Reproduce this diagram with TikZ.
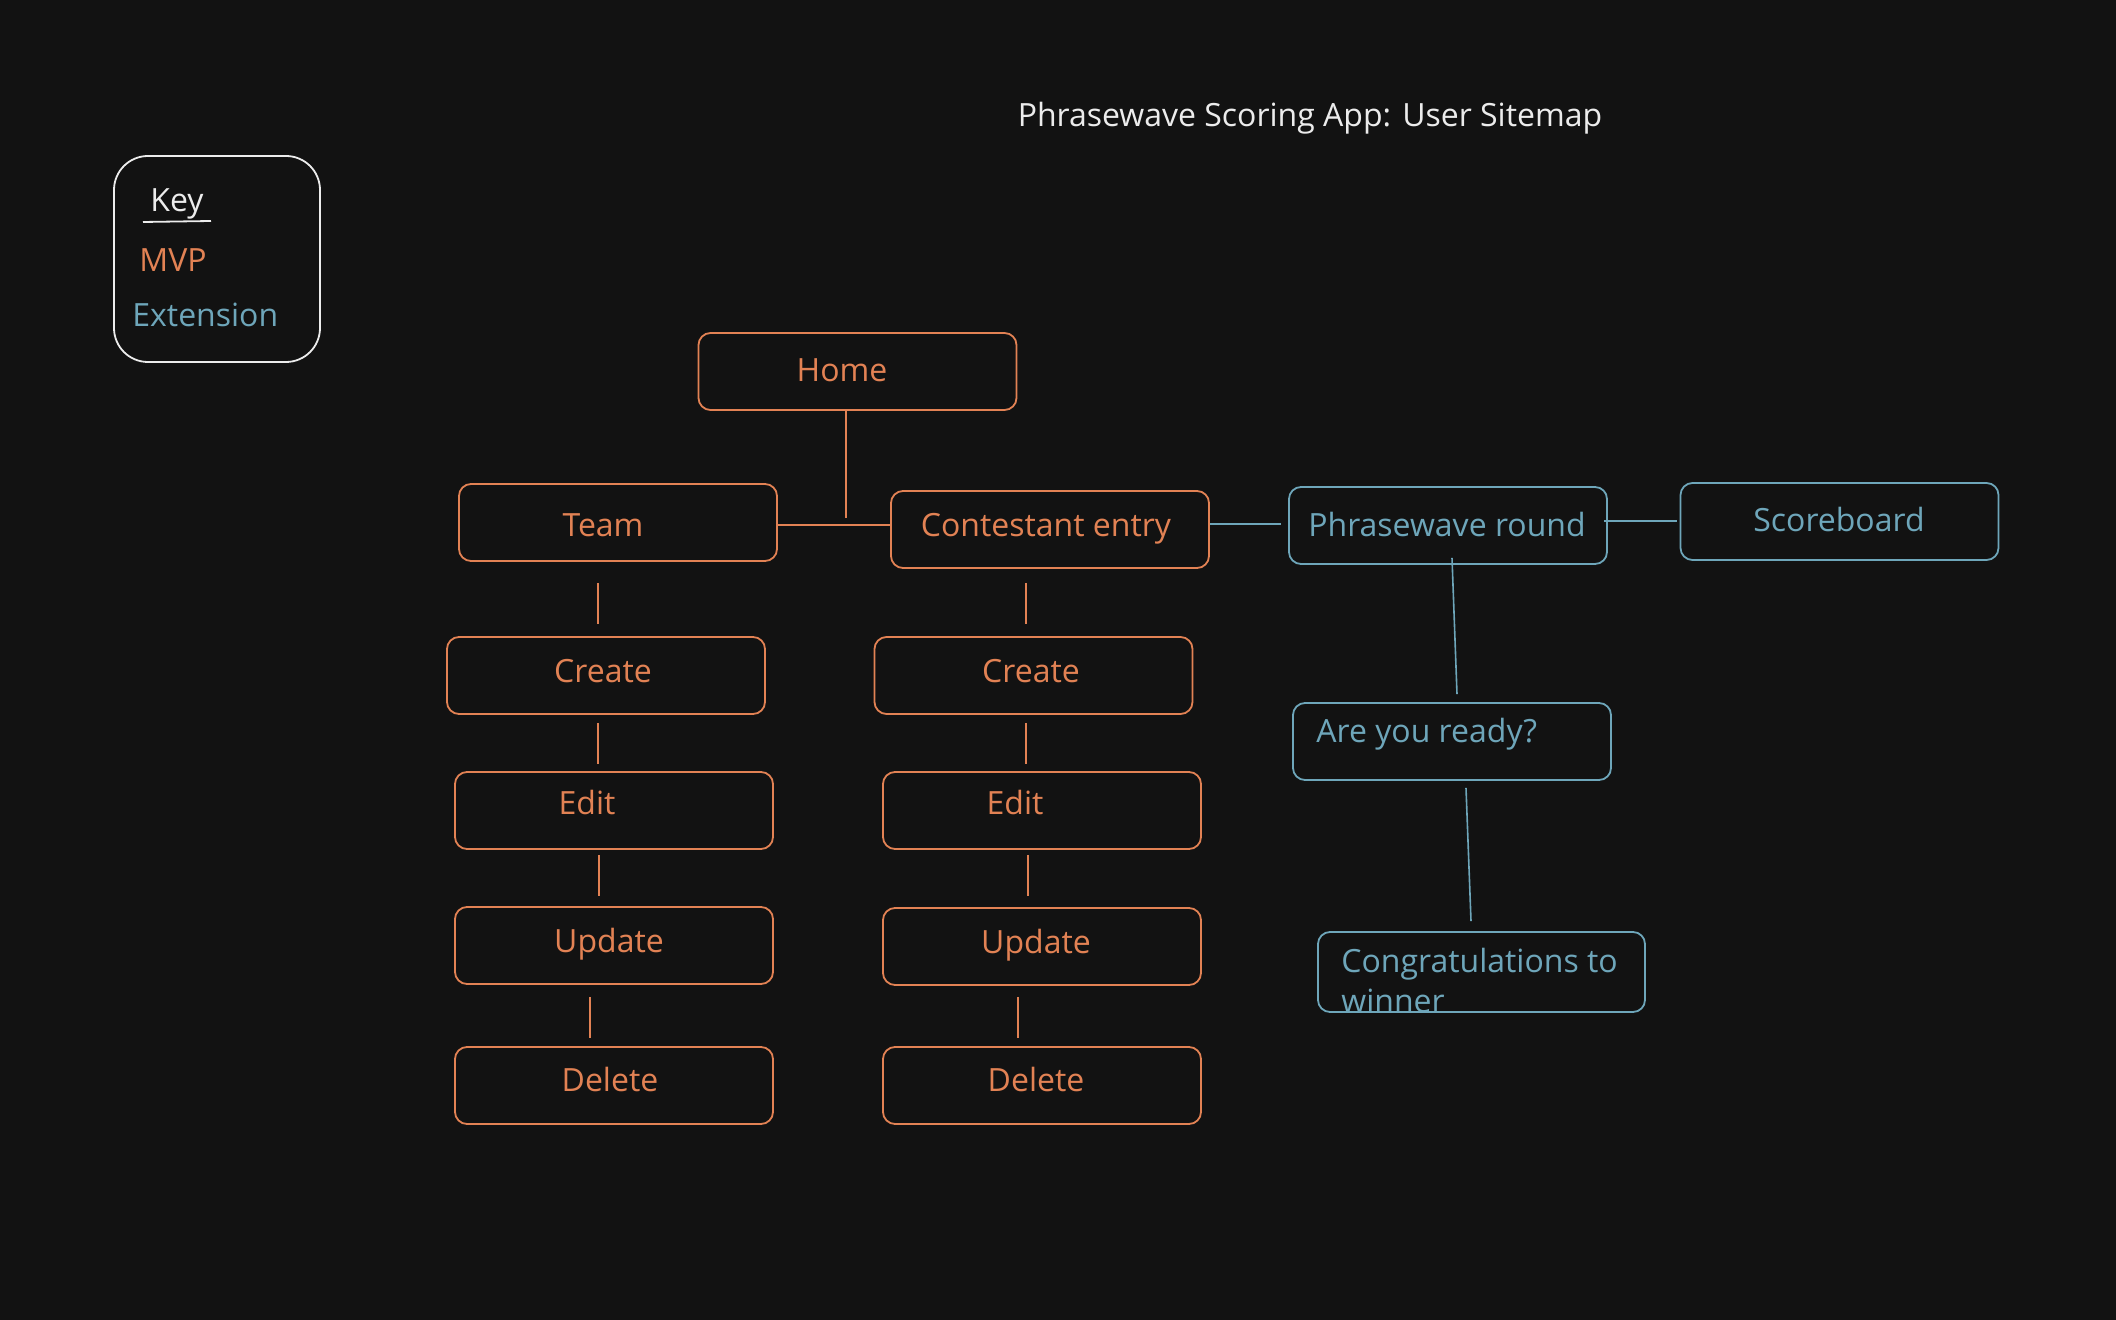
\documentclass[tikz,border=0pt]{standalone}
\usepackage{fontspec}
\setmainfont{Open Sans}
\definecolor{bg}{HTML}{121212}
\definecolor{org}{RGB}{226,130,84}
\definecolor{blu}{RGB}{110,166,186}
\definecolor{wht}{RGB}{236,236,236}
\tikzset{
  boxbase/.style={rectangle, rounded corners=6pt, minimum width=159pt, minimum height=38.5pt, inner sep=0pt, line width=0.9pt},
  obox/.style={boxbase, draw=org},
  bbox/.style={boxbase, draw=blu},
  txtbase/.style={anchor=mid, inner sep=0pt, yshift=-3pt},
  otxt/.style={txtbase, text=org, font=\fontsize{16}{19}\selectfont},
  btxt/.style={txtbase, text=blu, font=\fontsize{16}{19}\selectfont},
  keytxt/.style={txtbase, font=\fontsize{16}{19}\selectfont},
  oline/.style={draw=org, line width=0.8pt},
  bline/.style={draw=blu, line width=0.8pt},
}
\begin{document}
\begin{tikzpicture}[x=0.5pt,y=-0.5pt]
\fill[bg] (0,0) rectangle (2116,1320);
\useasboundingbox (0,0) rectangle (2116,1320);

% title
\node[keytxt, text=wht] (title) at (1310,115) {Phrasewave Scoring App: User Sitemap};

% key
\node[draw=wht, line width=0.9pt, rounded corners=17pt, minimum width=103pt, minimum height=103pt, inner sep=0pt] (key) at (217,259) {};
\node[keytxt, text=wht] (keyT) at (177,200) {Key};
\draw[wht, line width=0.9pt] (143,222) -- (211,221);
\node[keytxt, text=org, anchor=mid west] (mvp) at (139,260) {MVP};
\node[keytxt, text=blu, anchor=mid west] (ext) at (132,315) {Extension};

% boxes
\node[obox] (home) at (857.5,371.5) {};
\node[otxt] (homeT) at (842,370) {Home};
\node[obox] (team) at (618,522.5) {};
\node[otxt] (teamT) at (603,525) {Team};
\node[obox] (contest) at (1050,529.5) {};
\node[otxt] (contestT) at (1046,525) {Contestant entry};
\node[bbox] (phrase) at (1448,525.5) {};
\node[btxt] (phraseT) at (1447,525) {Phrasewave round};
\node[bbox] (score) at (1839.5,521.5) {};
\node[btxt] (scoreT) at (1839,520) {Scoreboard};
\node[bbox] (ready) at (1452,741.5) {};
\node[btxt, anchor=mid west] (readyT) at (1316,731) {Are you ready?};
\node[bbox, minimum width=163.5pt, minimum height=40pt] (congrats) at (1481.5,972) {};
\node[btxt, anchor=mid west] (congratsT) at (1341,961) {Congratulations to};
\node[btxt, anchor=mid west] (congratsT2) at (1341,1001) {winner};

\node[obox] (create1) at (606,675.5) {};
\node[otxt] (create1T) at (603,671) {Create};
\node[obox] (edit1) at (614,810.5) {};
\node[otxt] (edit1T) at (587,803) {Edit};
\node[obox] (update1) at (614,945.5) {};
\node[otxt] (update1T) at (609,941) {Update};
\node[obox] (delete1) at (614,1085.5) {};
\node[otxt] (delete1T) at (610,1080) {Delete};

\node[obox] (create2) at (1033.5,675.5) {};
\node[otxt] (create2T) at (1031,671) {Create};
\node[obox] (edit2) at (1042,810.5) {};
\node[otxt] (edit2T) at (1015,803) {Edit};
\node[obox] (update2) at (1042,946.5) {};
\node[otxt] (update2T) at (1036,942) {Update};
\node[obox] (delete2) at (1042,1085.5) {};
\node[otxt] (delete2T) at (1036,1080) {Delete};

% connectors
\coordinate (j) at (846,518);
\draw[oline] ([xshift=-5.75pt]home.south) -- (j);
\draw[oline] ([yshift=-1.25pt]team.east) -- ([yshift=2.25pt]contest.west);

\draw[oline] ([xshift=-10pt,yshift=-10.5pt]team.south) -- ([xshift=-4pt,yshift=6pt]create1.north);
\draw[oline] ([xshift=-4pt,yshift=-4pt]create1.south) -- ([xshift=-8pt,yshift=3.5pt]edit1.north);
\draw[oline] ([xshift=-7.5pt,yshift=-2.5pt]edit1.south) -- ([xshift=-7.5pt,yshift=5pt]update1.north);
\draw[oline] ([xshift=-12pt,yshift=-6pt]update1.south) -- ([xshift=-12pt,yshift=4pt]delete1.north);

\draw[oline] ([xshift=-12pt,yshift=-7pt]contest.south) -- ([xshift=-3.75pt,yshift=6pt]create2.north);
\draw[oline] ([xshift=-3.75pt,yshift=-4pt]create2.south) -- ([xshift=-8pt,yshift=3.5pt]edit2.north);
\draw[oline] ([xshift=-7pt,yshift=-2.5pt]edit2.south) -- ([xshift=-7pt,yshift=5.5pt]update2.north);
\draw[oline] ([xshift=-12pt,yshift=-5.5pt]update2.south) -- ([xshift=-12pt,yshift=4pt]delete2.north);

\draw[bline] ([yshift=2.75pt]contest.east) -- ([xshift=-3.5pt,yshift=0.75pt]phrase.west);
\draw[bline] ([xshift=-2pt,yshift=2.25pt]phrase.east) -- ([xshift=-1.5pt,yshift=0.25pt]score.west);
\draw[bline] ([xshift=2pt,yshift=3.5pt]phrase.south) -- ([xshift=2.5pt,yshift=4pt]ready.north);
\draw[bline] ([xshift=7pt,yshift=-3.5pt]ready.south) -- ([xshift=-5.25pt,yshift=5pt]congrats.north);
\end{tikzpicture}
\end{document}
